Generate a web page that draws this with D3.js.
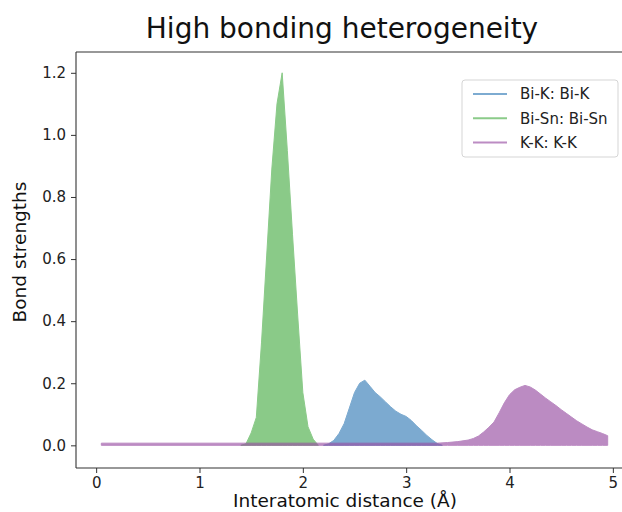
<!DOCTYPE html>
<html>
<head>
<meta charset="utf-8">
<script src="https://cdn.jsdelivr.net/npm/d3@7"></script>
<style>
  body { margin: 0; background: #fff; }
  svg { font-family: "DejaVu Sans", sans-serif; }
</style>
</head>
<body>
<svg id="chart" width="622" height="512"></svg>
<script>
// series data
var names = ["Bi-K: Bi-K", "Bi-Sn: Bi-Sn", "K-K: K-K"];
var colors = ["#377eb8", "#4daf4a", "#984ea3"];

var biK_x = [2.20, 2.25, 2.30, 2.35, 2.40, 2.45, 2.50, 2.55, 2.60, 2.65, 2.70, 2.75, 2.80, 2.85, 2.90, 2.95, 3.00, 3.05, 3.10, 3.15, 3.20, 3.25, 3.30, 3.35];
var biK_y = [0.0, 0.005, 0.016, 0.038, 0.07, 0.12, 0.17, 0.2, 0.21, 0.19, 0.17, 0.156, 0.14, 0.124, 0.11, 0.1, 0.093, 0.08, 0.063, 0.048, 0.032, 0.018, 0.006, 0.0];

var biSn_x = [1.40, 1.45, 1.50, 1.55, 1.60, 1.65, 1.70, 1.75, 1.80, 1.85, 1.90, 1.95, 2.00, 2.05, 2.10, 2.15];
var biSn_y = [0.0, 0.005, 0.04, 0.09, 0.33, 0.61, 0.89, 1.1, 1.2, 0.95, 0.68, 0.42, 0.17, 0.06, 0.02, 0.0];

var kk_x = [0.05, 3.30, 3.40, 3.50, 3.60, 3.65, 3.70, 3.75, 3.80, 3.85, 3.90, 3.95, 4.00, 4.05, 4.10, 4.15, 4.20, 4.25, 4.30, 4.35, 4.40, 4.45, 4.50, 4.55, 4.60, 4.65, 4.70, 4.75, 4.80, 4.85, 4.90, 4.95];
var kk_y = [0.007, 0.007, 0.009, 0.012, 0.017, 0.022, 0.03, 0.043, 0.058, 0.075, 0.105, 0.137, 0.163, 0.179, 0.187, 0.193, 0.188, 0.178, 0.165, 0.152, 0.14, 0.128, 0.115, 0.103, 0.091, 0.079, 0.069, 0.059, 0.05, 0.044, 0.038, 0.031];

var xTicks = [0, 1, 2, 3, 4, 5];
var yTicks = [0.0, 0.2, 0.4, 0.6, 0.8, 1.0, 1.2];

var series = [
  { name: names[0], color: colors[0], xs: biK_x, ys: biK_y },
  { name: names[1], color: colors[1], xs: biSn_x, ys: biSn_y },
  { name: names[2], color: colors[2], xs: kk_x, ys: kk_y }
];

var svg = d3.select("#chart"),
    pL = 76, pT = 52, pR = 633, pB = 468;

var x = d3.scaleLinear().domain([-0.195, 5.195]).range([pL, pR]);
var y = d3.scaleLinear().domain([-0.073, 1.267]).range([pB, pT]);

// filled curves
var area = d3.area()
    .x(function (d) { return x(d[0]); })
    .y0(y(0))
    .y1(function (d) { return y(d[1]); });

series.forEach(function (s) {
  var pts = s.xs.map(function (v, i) { return [v, s.ys[i]]; });
  svg.append("g")
      .attr("opacity", 0.65)
    .append("path")
      .datum(pts)
      .attr("d", area)
      .attr("fill", s.color)
      .attr("stroke", s.color)
      .attr("stroke-width", 1);
});

// axes
var xAxis = svg.append("g")
    .attr("transform", "translate(0," + pB + ")")
    .call(d3.axisBottom(x).tickValues(xTicks).tickFormat(d3.format("d")).tickSize(5).tickPadding(4));

var yAxis = svg.append("g")
    .attr("transform", "translate(" + pL + ",0)")
    .call(d3.axisLeft(y).tickValues(yTicks).tickFormat(d3.format(".1f")).tickSize(5).tickPadding(5));

[xAxis, yAxis].forEach(function (a) {
  a.selectAll("text").attr("font-size", 15).attr("fill", "#222").attr("font-family", "DejaVu Sans");
  a.selectAll("line").attr("stroke", "#333");
  a.select(".domain").remove();
});

// spines
svg.append("line").attr("x1", pL).attr("x2", pL).attr("y1", pT).attr("y2", pB)
    .attr("stroke", "#333").attr("stroke-width", 1.1);
svg.append("line").attr("x1", pL).attr("x2", pR).attr("y1", pB).attr("y2", pB)
    .attr("stroke", "#333").attr("stroke-width", 1.1);
svg.append("line").attr("x1", pL).attr("x2", pR).attr("y1", pT).attr("y2", pT)
    .attr("stroke", "#333").attr("stroke-width", 1.1);

// titles
svg.append("text")
    .attr("x", 342).attr("y", 38)
    .attr("text-anchor", "middle")
    .attr("font-size", 28)
    .attr("fill", "#111")
    .text("High bonding heterogeneity");

svg.append("text")
    .attr("x", 345).attr("y", 507)
    .attr("text-anchor", "middle")
    .attr("font-size", 18.5)
    .attr("fill", "#111")
    .text("Interatomic distance (Å)");

svg.append("text")
    .attr("transform", "translate(26,252) rotate(-90)")
    .attr("text-anchor", "middle")
    .attr("font-size", 18.5)
    .attr("fill", "#111")
    .text("Bond strengths");

// legend
var lg = svg.append("g").attr("transform", "translate(462,80)");
lg.append("rect")
    .attr("width", 156).attr("height", 77)
    .attr("rx", 3)
    .attr("fill", "#fff").attr("fill-opacity", 0.8)
    .attr("stroke", "#d5d5d5");

var row = lg.selectAll(".row")
    .data(series)
    .enter().append("g")
    .attr("class", "row")
    .attr("transform", function (d, i) { return "translate(0," + (14 + i * 24.3) + ")"; });

row.append("line")
    .attr("x1", 11).attr("x2", 45)
    .attr("stroke", function (d) { return d.color; })
    .attr("stroke-opacity", 0.65)
    .attr("stroke-width", 2);

row.append("text")
    .attr("x", 58).attr("dy", "0.35em")
    .attr("font-size", 15)
    .attr("fill", "#222")
    .text(function (d) { return d.name; });
</script>
</body>
</html>
